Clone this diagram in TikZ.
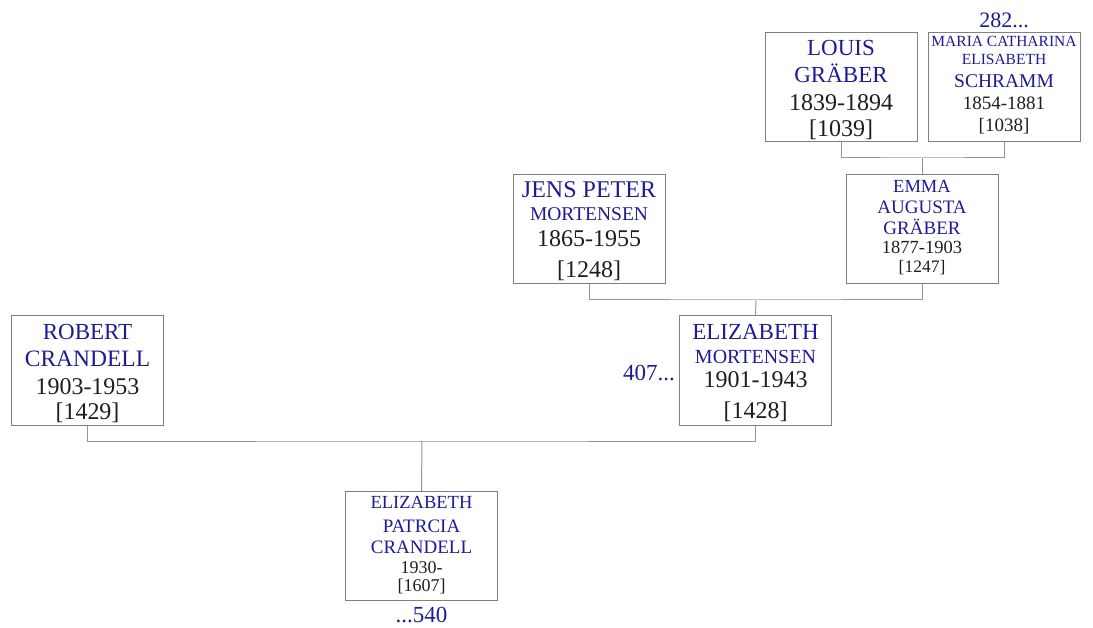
\documentclass[tikz,border=0pt]{standalone}
\usepackage{fontspec}
\setmainfont{Liberation Serif}
\definecolor{navy}{RGB}{28,28,150}
\definecolor{boxgray}{RGB}{128,128,128}
\definecolor{linegray}{RGB}{150,150,150}
\definecolor{datecol}{RGB}{30,30,30}
\newcommand\txtline[6]{\node[#1, font=\fontsize{#2}{#2}\selectfont] (#3) at (#4,#5) {#6};}
\begin{document}
\begin{tikzpicture}[x=1pt,y=-1pt,
  box/.style={draw=boxgray, line width=1pt, minimum width=152pt, minimum height=109pt, inner sep=0pt},
  nm/.style={text=navy, anchor=base, inner sep=0pt},
  dt/.style={text=datecol, anchor=base, inner sep=0pt},
  conn/.style={draw=linegray, line width=1pt}]
\useasboundingbox (0,0) rectangle (1093,628);

% boxes
\node[box] (louis) at (841,87.5) {};
\node[box] (maria) at (1004,87.5) {};
\node[box] (jens) at (589,229.5) {};
\node[box] (emma) at (922,229.5) {};
\node[box] (robert) at (87.5,370.5) {};
\node[box] (elizm) at (755.5,370.5) {};
\node[box] (child) at (421.5,546) {};

% connectors
\coordinate (j1) at (922,158);
\coordinate (j2) at (756,300);
\coordinate (j3) at (422,441);
\draw[conn] (louis.south) |- (j1) -| (maria.south);
\draw[conn] (j1) -- (emma.north);
\draw[conn] (jens.south) |- (j2) -| (emma.south);
\draw[conn] (j2) -- (elizm.north);
\draw[conn] (robert.south) |- (j3) -| (elizm.south);
\draw[conn] (j3) -- (child.north);

% Louis
\txtline{nm}{23}{l1}{841}{56}{LOUIS}
\txtline{nm}{23}{l2}{841}{83}{GRÄBER}
\txtline{dt}{24}{l3}{841}{111}{1839-1894}
\txtline{dt}{24}{l4}{841}{137}{[1039]}
% Maria
\txtline{nm}{15.5}{m1}{1004}{47}{MARIA CATHARINA}
\txtline{nm}{15.5}{m2}{1004}{65}{ELISABETH}
\txtline{nm}{19.5}{m3}{1004}{88}{SCHRAMM}
\txtline{dt}{19}{m4}{1004}{110}{1854-1881}
\txtline{dt}{19}{m5}{1004}{132}{[1038]}
\txtline{nm}{22}{m6}{1004}{28}{282...}
% Jens
\txtline{nm}{24}{p1}{589}{198}{JENS PETER}
\txtline{nm}{19.5}{p2}{589}{221}{MORTENSEN}
\txtline{dt}{24}{p3}{589}{247}{1865-1955}
\txtline{dt}{24}{p4}{589}{278}{[1248]}
% Emma
\txtline{nm}{18.5}{e1}{922}{193}{EMMA}
\txtline{nm}{19}{e2}{922}{214}{AUGUSTA}
\txtline{nm}{19}{e3}{922}{235}{GRÄBER}
\txtline{dt}{18.5}{e4}{922}{254}{1877-1903}
\txtline{dt}{17.5}{e5}{922}{273}{[1247]}
% Robert
\txtline{nm}{23}{r1}{87.5}{340}{ROBERT}
\txtline{nm}{23.5}{r2}{87.5}{367}{CRANDELL}
\txtline{dt}{24}{r3}{87.5}{395}{1903-1953}
\txtline{dt}{24}{r4}{87.5}{420}{[1429]}
% Elizabeth Mortensen
\txtline{nm}{23}{z1}{755.5}{340}{ELIZABETH}
\txtline{nm}{20}{z2}{755.5}{363}{MORTENSEN}
\txtline{dt}{24}{z3}{755.5}{388}{1901-1943}
\txtline{dt}{24}{z4}{755.5}{418}{[1428]}
\node[text=navy, anchor=base east, inner sep=0pt, font=\fontsize{23}{23}\selectfont] (z5) at (675,381) {407...};
% Child
\txtline{nm}{18.5}{c1}{421.5}{508}{ELIZABETH}
\txtline{nm}{19}{c2}{421.5}{532}{PATRCIA}
\txtline{nm}{19}{c3}{421.5}{553}{CRANDELL}
\txtline{dt}{18}{c4}{421.5}{573}{1930-}
\txtline{dt}{18}{c5}{421.5}{591}{[1607]}
\txtline{nm}{23}{c6}{421.5}{622}{...540}
\end{tikzpicture}
\end{document}
